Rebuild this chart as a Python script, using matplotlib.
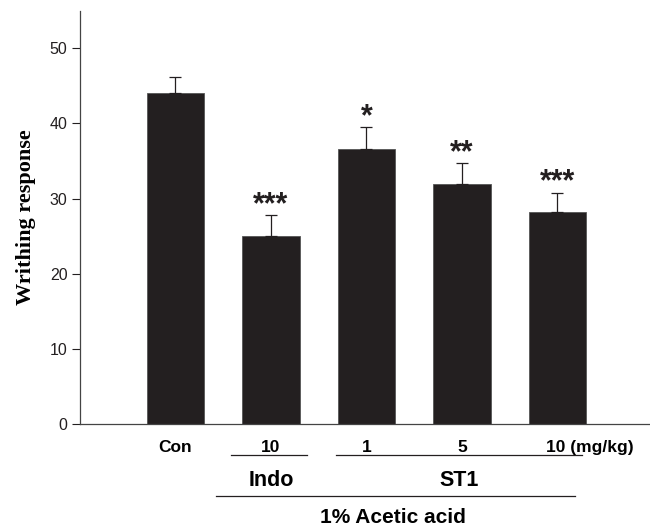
import matplotlib.pyplot as plt
import matplotlib.transforms as mtransforms

groups = ["Con", "Indo 10", "ST1 1", "ST1 5", "ST1 10"]
means = [44.0, 25.0, 36.6, 31.9, 28.2]
sems = [2.2, 2.8, 2.9, 2.85, 2.6]
stars = ["", "***", "*", "**", "***"]
dose_labels = ["Con", "10", "1", "5", "10 (mg/kg)"]

bar_color = "#231f20"
sans = "Liberation Sans"

fig = plt.figure(figsize=(6.5, 5.29), dpi=100)
ax = fig.add_axes([0.123, 0.198, 0.877, 0.782])

x = list(range(len(groups)))
ax.bar(x, means, width=0.6, color=bar_color, edgecolor="#555555", linewidth=0.6)
ax.errorbar(x, means, yerr=[[0] * len(sems), sems], fmt="none",
            ecolor=bar_color, elinewidth=0.9, capsize=4.5, capthick=0.9)

for xi, m, s, st in zip(x, means, sems, stars):
    if st:
        ax.annotate(st, (xi, m + s), xytext=(0, 1.5), textcoords="offset points",
                    ha="center", va="baseline", fontsize=22, fontweight="bold",
                    family=sans, color=bar_color)

ax.set_xlim(-1.0, 4.97)
ax.set_ylim(0, 55)
ax.set_yticks([0, 10, 20, 30, 40, 50])
ax.set_xticks([])
ax.tick_params(axis="y", direction="out", length=6, width=0.8,
               labelsize=11.5, pad=3, colors="#231f20")
for lab in ax.get_yticklabels():
    lab.set_family(sans)

for side in ["top", "right"]:
    ax.spines[side].set_visible(False)
for side in ["left", "bottom"]:
    ax.spines[side].set_linewidth(0.9)
    ax.spines[side].set_color("#444444")

ax.set_ylabel("Writhing response", family="Liberation Serif",
              fontweight="bold", fontsize=16, labelpad=10)

# group annotations below the axis
trans = mtransforms.blended_transform_factory(ax.transData, ax.transAxes)
for xi, lab in zip(x[:-1], dose_labels[:-1]):
    ax.text(xi, -0.055, lab, transform=trans, ha="center", va="center",
            fontsize=12.5, fontweight="bold", family=sans)
ax.text(3.88, -0.055, dose_labels[-1], transform=trans, ha="left", va="center",
        fontsize=12.5, fontweight="bold", family=sans)

line_kw = dict(transform=trans, color="#231f20", linewidth=0.9, clip_on=False)
ax.plot([0.586, 1.382], [-0.074, -0.074], **line_kw)
ax.plot([1.686, 4.26], [-0.074, -0.074], **line_kw)
ax.plot([0.43, 4.18], [-0.173, -0.173], **line_kw)

ax.text(1.0, -0.135, "Indo", transform=trans, ha="center", va="center",
        fontsize=15.5, fontweight="bold", family=sans)
ax.text(2.97, -0.135, "ST1", transform=trans, ha="center", va="center",
        fontsize=15.5, fontweight="bold", family=sans)
ax.text(2.28, -0.226, "1% Acetic acid", transform=trans, ha="center",
        va="center", fontsize=15, fontweight="bold", family=sans)

fig.savefig("out.png", dpi=100)
